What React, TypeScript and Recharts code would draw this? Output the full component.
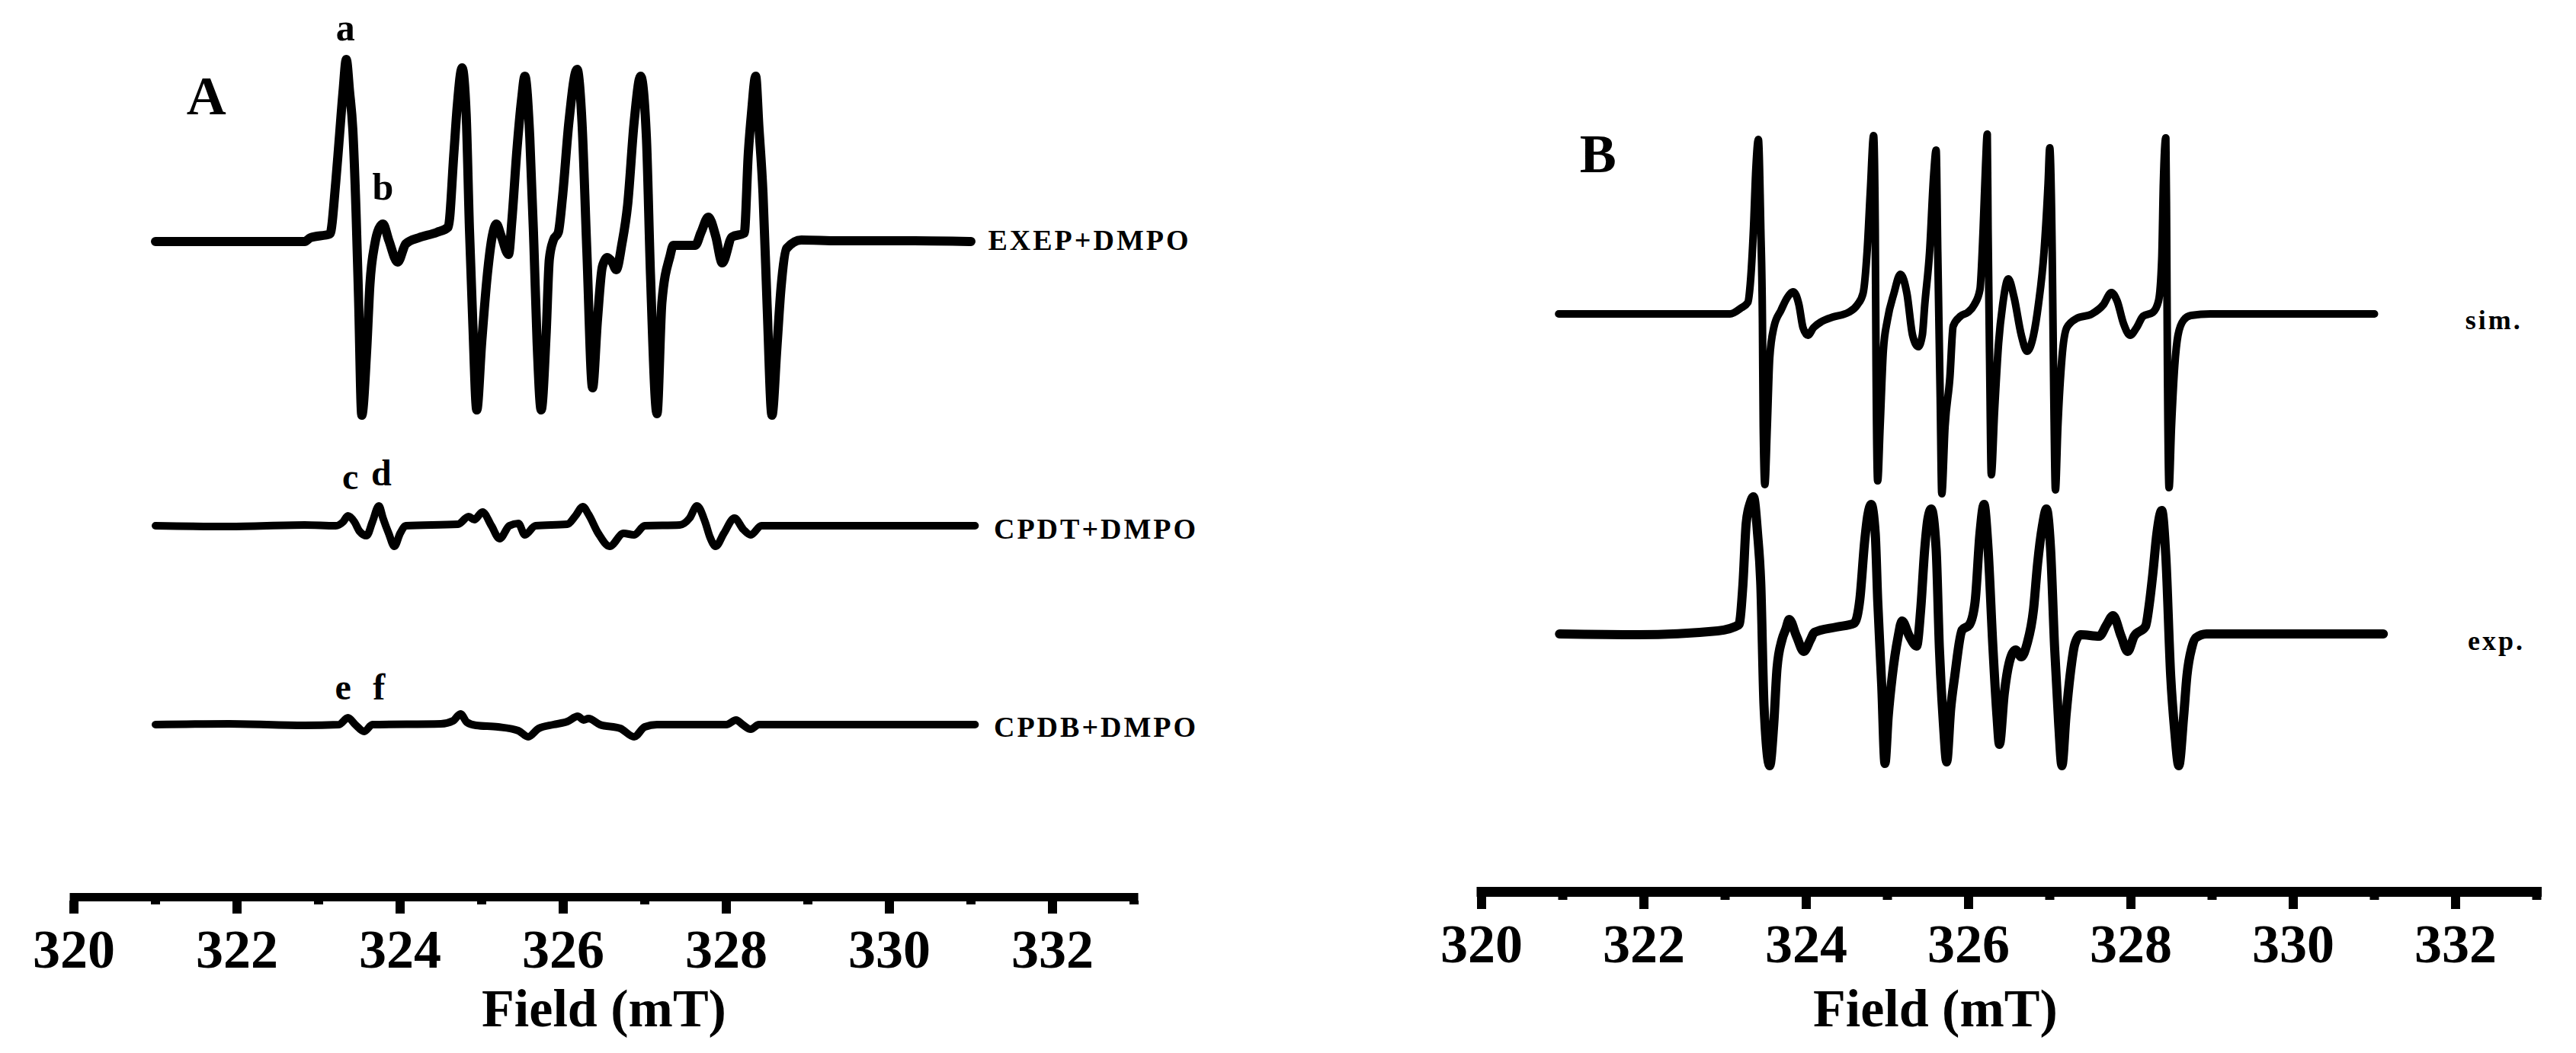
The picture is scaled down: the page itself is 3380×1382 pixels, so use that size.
import { LineChart, Line, XAxis, YAxis, ReferenceDot } from "recharts";

const SERIF = '"Liberation Serif", "Times New Roman", Times, serif';

// field axis (mT), both panels
const FIELD_TICKS = [320, 321, 322, 323, 324, 325, 326, 327, 328, 329, 330, 331, 332, 333];

// panel A spectra: [field mT, signal a.u.]
const EXEP_DMPO: [number, number][] = [
  [321.0, 0], [321.9, 0], [322.83, 0], [322.9, 0.5], [323.14, 1.0], [323.21, 7.7], [323.25, 13.0],
  [323.3, 19.7], [323.34, 23.9], [323.38, 19.7], [323.42, 14.7], [323.46, 3.7], [323.49, -7.3],
  [323.53, -22.8], [323.59, -14.3], [323.63, -5.6], [323.69, -0.3], [323.74, 1.7], [323.79, 2.3],
  [323.86, 0.2], [323.97, -2.7], [324.07, -0.3], [324.23, 0.5], [324.45, 1.2], [324.59, 1.9],
  [324.66, 11.7], [324.7, 17.7], [324.76, 22.8], [324.81, 16.7], [324.85, 1.7], [324.89, -10.3],
  [324.94, -22.1], [325.0, -13.3], [325.07, -4.3], [325.13, 0.7], [325.18, 2.3], [325.24, 0.7],
  [325.33, -1.7], [325.37, 2.7], [325.43, 11.7], [325.49, 18.7], [325.53, 21.7], [325.59, 13.7],
  [325.64, -0.3], [325.68, -13.3], [325.73, -22.1], [325.79, -12.3], [325.83, -2.3], [325.88, 0.2],
  [325.94, 1.2], [325.99, 5.7], [326.07, 15.7], [326.17, 22.6], [326.23, 15.7], [326.29, -1.3],
  [326.36, -19.2], [326.42, -10.3], [326.48, -3.3], [326.54, -2.1], [326.6, -2.7], [326.65, -3.7],
  [326.72, -0.3], [326.79, 4.8], [326.87, 15.7], [326.95, 21.7], [327.02, 13.7], [327.07, -4.3],
  [327.15, -22.6], [327.21, -8.0], [327.31, -1.9], [327.35, -0.5], [327.62, -0.5], [327.69, 1.2],
  [327.78, 3.2], [327.87, 0.7], [327.95, -2.8], [328.07, 0.6], [328.22, 1.1], [328.27, 11.6],
  [328.31, 17.0], [328.36, 21.7], [328.4, 15.0], [328.45, 6.3], [328.5, -8.3], [328.56, -22.8],
  [328.62, -14.0], [328.67, -6.2], [328.74, -0.9], [328.92, 0.2], [329.37, 0.1], [330.31, 0.1], [331.0, 0],
];

const CPDT_DMPO: [number, number][] = [
  [321.0, 0], [321.9, -0.1], [322.83, 0.1], [323.21, 0], [323.3, 0.5], [323.36, 1.3], [323.44, 0.5],
  [323.5, -0.7], [323.59, -1.3], [323.66, 0.5], [323.74, 2.6], [323.79, 1.0], [323.86, -1.0],
  [323.93, -2.7], [324.0, -1.0], [324.07, 0], [324.71, 0.2], [324.84, 1.2], [324.91, 0.8],
  [325.01, 1.8], [325.12, 0], [325.22, -1.7], [325.34, 0], [325.45, 0.3], [325.53, -1.2],
  [325.66, 0], [326.05, 0.2], [326.15, 1.3], [326.24, 2.5], [326.31, 1.5], [326.43, -1.0],
  [326.57, -2.7], [326.74, -1.0], [326.87, -1.2], [327.0, 0], [327.43, 0.1], [327.55, 1.0],
  [327.64, 2.6], [327.74, 0.5], [327.8, -1.5], [327.87, -2.7], [327.97, -1.0], [328.1, 1.0],
  [328.21, -0.5], [328.3, -1.2], [328.43, 0], [329.37, 0], [330.31, 0], [331.05, 0],
];

const CPDB_DMPO: [number, number][] = [
  [321.0, 0], [321.9, 0.1], [322.83, -0.1], [323.25, 0], [323.36, 0.9], [323.45, 0], [323.56, -0.9],
  [323.66, 0], [324.5, 0.1], [324.65, 0.5], [324.74, 1.4], [324.82, 0.3], [324.93, -0.1],
  [325.2, -0.3], [325.45, -0.8], [325.57, -1.6], [325.7, -0.5], [325.88, 0], [326.05, 0.4],
  [326.18, 1.1], [326.25, 0.6], [326.31, 0.8], [326.45, 0], [326.7, -0.5], [326.87, -1.6],
  [327.0, -0.3], [327.15, 0], [328.0, 0], [328.12, 0.6], [328.2, 0], [328.3, -0.6], [328.4, 0],
  [329.5, 0], [331.05, 0],
];

// panel B spectra
const SIM: [number, number][] = [
  [320.95, 0], [323.06, 0], [323.2, 0.8], [323.28, 1.5], [323.31, 3.9], [323.35, 11.2], [323.38, 19.2],
  [323.41, 22.9], [323.44, 11.2], [323.46, -0.8], [323.47, -14.8], [323.49, -22.4], [323.52, -14.8],
  [323.55, -5.8], [323.6, -1.8], [323.69, 0.5], [323.77, 2.2], [323.84, 2.9], [323.91, 1.2],
  [323.96, -1.8], [324.02, -2.8], [324.09, -1.8], [324.19, -1.0], [324.33, -0.4], [324.52, 0.2],
  [324.63, 1.2], [324.7, 2.7], [324.75, 8.2], [324.79, 16.2], [324.83, 23.4], [324.85, 11.2],
  [324.86, -6.8], [324.88, -21.9], [324.91, -14.8], [324.95, -4.8], [325.0, -0.8], [325.08, 2.7],
  [325.16, 5.2], [325.24, 2.7], [325.31, -2.8], [325.38, -4.3], [325.43, -2.8], [325.46, 1.2],
  [325.52, 8.2], [325.57, 18.2], [325.6, 21.5], [325.62, 8.2], [325.65, -10.8], [325.67, -23.6],
  [325.71, -14.8], [325.77, -8.3], [325.81, -1.6], [325.9, -0.3], [325.99, 0.2], [326.07, 1.2],
  [326.14, 3.2], [326.18, 11.2], [326.21, 19.7], [326.23, 23.6], [326.24, 11.2], [326.26, -6.8],
  [326.28, -21.1], [326.32, -12.8], [326.37, -3.8], [326.42, 1.2], [326.49, 4.6], [326.56, 2.2],
  [326.65, -2.8], [326.72, -4.9], [326.8, -2.8], [326.86, 1.2], [326.93, 8.2], [326.98, 17.2],
  [327.0, 21.8], [327.03, 8.2], [327.05, -10.8], [327.07, -23.1], [327.1, -14.8], [327.15, -5.8],
  [327.21, -1.8], [327.33, -0.6], [327.52, 0], [327.66, 1.2], [327.76, 2.8], [327.83, 1.7],
  [327.91, -1.3], [327.99, -2.8], [328.07, -1.8], [328.15, -0.3], [328.27, 0.2], [328.34, 1.7],
  [328.38, 7.2], [328.4, 17.2], [328.43, 23.1], [328.44, 11.2], [328.45, -6.8], [328.47, -22.8],
  [328.5, -14.8], [328.54, -6.8], [328.58, -2.8], [328.65, -0.8], [328.74, -0.2], [328.98, 0], [331.0, 0],
];

const EXP: [number, number][] = [
  [320.96, 0], [321.93, -0.1], [322.91, 0.4], [323.17, 1.2], [323.22, 6.5], [323.26, 14.5],
  [323.31, 17.2], [323.35, 18.0], [323.4, 13.2], [323.44, 6.5], [323.48, -9.5], [323.55, -17.3],
  [323.6, -11.8], [323.64, -4.5], [323.7, -0.8], [323.75, 0.7], [323.79, 1.9], [323.88, -0.3],
  [323.97, -2.3], [324.05, -0.8], [324.1, 0.2], [324.37, 0.9], [324.59, 1.4], [324.66, 4.5],
  [324.72, 12.2], [324.76, 15.7], [324.8, 17.0], [324.85, 13.2], [324.88, 4.5], [324.93, -6.8],
  [324.97, -17.0], [325.01, -10.8], [325.06, -5.5], [325.13, -0.5], [325.18, 1.7], [325.27, -0.3],
  [325.36, -1.6], [325.41, 3.2], [325.46, 11.2], [325.5, 15.2], [325.54, 16.4], [325.6, 11.2],
  [325.64, -1.8], [325.69, -11.8], [325.73, -16.8], [325.78, -9.8], [325.83, -5.5], [325.92, 0.5],
  [326.01, 1.2], [326.08, 4.2], [326.14, 13.2], [326.19, 17.0], [326.24, 11.2], [326.3, -1.8],
  [326.35, -10.8], [326.38, -14.5], [326.44, -7.8], [326.5, -3.8], [326.58, -2.1], [326.65, -3.0],
  [326.72, -1.3], [326.8, 3.2], [326.85, 9.2], [326.91, 14.2], [326.96, 16.4], [327.01, 11.2],
  [327.06, -1.8], [327.11, -11.8], [327.15, -17.3], [327.2, -10.8], [327.25, -5.5], [327.31, -1.3],
  [327.38, -0.1], [327.61, -0.3], [327.7, 1.2], [327.78, 2.4], [327.88, -0.3], [327.96, -2.3],
  [328.04, -0.3], [328.18, 1.0], [328.23, 4.2], [328.27, 7.9], [328.32, 13.2], [328.38, 16.2],
  [328.43, 10.2], [328.49, -5.5], [328.54, -12.8], [328.59, -17.3], [328.65, -10.8], [328.69, -5.5],
  [328.75, -1.8], [328.8, -0.5], [328.93, 0], [329.92, 0], [331.11, 0],
];

// vertical stacking of the traces
const OFFSET_EXEP = 86.05;
const OFFSET_CPDT = 48.75;
const OFFSET_CPDB = 22.65;
const OFFSET_SIM = 75.85;
const OFFSET_EXP = 33.85;

const toRows = (pts: [number, number][], offset: number) =>
  pts.map(([field, signal]) => ({ field, value: signal + offset }));

function FieldTick(props: any) {
  const { x, y, payload, half } = props;
  const v = payload.value;
  const major = v % 2 === 0;
  return (
    <g>
      <rect x={x - 6} y={y + half - 1} width={12} height={major ? 17 : 5} fill="#000" />
      {major && v <= 332 && (
        <text x={x} y={y + 92.5} textAnchor="middle" fontSize={72} fontWeight="bold" fontFamily={SERIF} fill="#000">
          {v}
        </text>
      )}
    </g>
  );
}

function AxisTitle(props: any) {
  const { viewBox, frac, dy } = props;
  return (
    <text x={viewBox.x + viewBox.width * frac} y={viewBox.y + dy} textAnchor="middle" fontSize={70}
      fontWeight="bold" fontFamily={SERIF} fill="#000">
      Field (mT)
    </text>
  );
}

function textDot(key: string, x: number, y: number, text: string, size: number, anchor = "middle", spacing = 0) {
  return (
    <ReferenceDot key={key} x={x} y={y} r={0} isFront
      shape={(p: any) => (
        <text x={p.cx} y={p.cy} textAnchor={anchor} fontSize={size} fontWeight="bold"
          fontFamily={SERIF} letterSpacing={spacing} fill="#000">
          {text}
        </text>
      )}
    />
  );
}

const lineProps = {
  type: "monotone" as const,
  dataKey: "value",
  stroke: "#000",
  dot: false,
  activeDot: false,
  isAnimationActive: false,
  strokeLinejoin: "round" as const,
  strokeLinecap: "round" as const,
};

export default function App() {
  return (
    <div style={{ position: "absolute", left: 0, top: 0, width: 3380, height: 1382, background: "#fff" }}>
      <div style={{ position: "absolute", left: 0, top: 0 }}>
        <LineChart width={1700} height={1382} margin={{ top: 40, right: 212, bottom: 54.5, left: 97 }}>
          <XAxis type="number" dataKey="field" domain={[320, 333]} ticks={FIELD_TICKS} interval={0}
            allowDataOverflow tickSize={0} tickMargin={0} tickLine={false} height={150}
            axisLine={{ stroke: "#000", strokeWidth: 11, strokeLinecap: "square" }}
            tick={(p: any) => <FieldTick {...p} half={5.5} />}
            label={(p: any) => <AxisTitle {...p} frac={0.5} dy={169.5} />} />
          <YAxis hide type="number" domain={[0, 113.75]} allowDataOverflow />
          <Line {...lineProps} data={toRows(EXEP_DMPO, OFFSET_EXEP)} strokeWidth={12} />
          <Line {...lineProps} data={toRows(CPDT_DMPO, OFFSET_CPDT)} strokeWidth={10} />
          <Line {...lineProps} data={toRows(CPDB_DMPO, OFFSET_CPDB)} strokeWidth={10} />
          {textDot("A", 321.38, 102.75, "A", 72, "start")}
          {textDot("a", 323.33, 112.45, "a", 50)}
          {textDot("b", 323.79, 91.55, "b", 50)}
          {textDot("c", 323.39, 53.55, "c", 48)}
          {textDot("d", 323.77, 54.05, "d", 48)}
          {textDot("e", 323.3, 25.95, "e", 48)}
          {textDot("f", 323.74, 25.95, "f", 48)}
          {textDot("l1", 331.21, 84.95, "EXEP+DMPO", 38, "start", 3)}
          {textDot("l2", 331.28, 47.05, "CPDT+DMPO", 38, "start", 3)}
          {textDot("l3", 331.28, 21.05, "CPDB+DMPO", 38, "start", 3)}
        </LineChart>
      </div>
      <div style={{ position: "absolute", left: 1700, top: 0 }}>
        <LineChart width={1680} height={1382} margin={{ top: 40, right: 51.5, bottom: 61.5, left: 244 }}>
          <XAxis type="number" dataKey="field" domain={[320, 333]} ticks={FIELD_TICKS} interval={0}
            allowDataOverflow tickSize={0} tickMargin={0} tickLine={false} height={150}
            axisLine={{ stroke: "#000", strokeWidth: 13, strokeLinecap: "square" }}
            tick={(p: any) => <FieldTick {...p} half={6.5} />}
            label={(p: any) => <AxisTitle {...p} frac={0.43} dy={176.5} />} />
          <YAxis hide type="number" domain={[0, 113.05]} allowDataOverflow />
          <Line {...lineProps} data={toRows(SIM, OFFSET_SIM)} strokeWidth={10} />
          <Line {...lineProps} data={toRows(EXP, OFFSET_EXP)} strokeWidth={12} />
          {textDot("B", 321.21, 94.45, "B", 72, "start")}
          {textDot("sim", 332.12, 73.85, "sim.", 36, "start", 3)}
          {textDot("exp", 332.15, 31.75, "exp.", 36, "start", 3)}
        </LineChart>
      </div>
    </div>
  );
}
